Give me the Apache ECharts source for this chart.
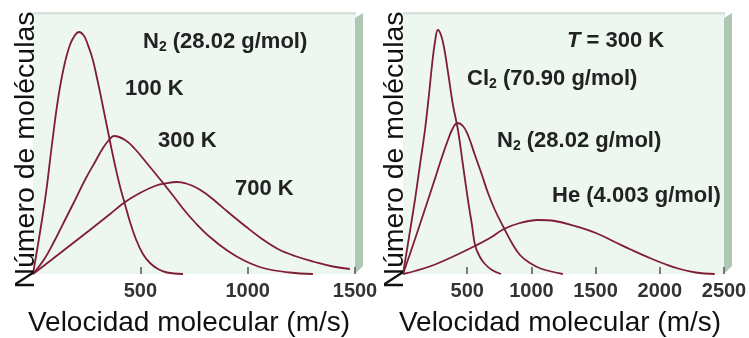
<!DOCTYPE html>
<html>
<head>
<meta charset="utf-8">
<script src="https://cdn.jsdelivr.net/npm/echarts@6/dist/echarts.min.js"></script>
<style>
  html, body { margin: 0; padding: 0; background: #fff; }
  #chart { width: 749px; height: 338px; }
</style>
</head>
<body>
<div id="chart"></div>
<script>
// ticks
var ticksLeft = [500, 1000, 1500];
var ticksRight = [500, 1000, 1500, 2000, 2500];

// [velocidad m/s, numero de moleculas (unidades arbitrarias)]
var n2_100K = [[0,0],[56,74],[88,129],[116,174],[144,207],[172,229],[196,239],[214,242],[238,238],[256,229],[279,214],[298,196],[314,180],[330,163],[347,145],[365,126],[385,106],[406,87],[428,70],[452,52],[480,34.5],[512,20],[545,11],[582,5],[624,1.5],[699,0]];
var n2_300K = [[0,0],[56,16],[102,34],[149,54],[196,74],[242,94],[289,112],[326,126],[354,134],[377,138],[429,134],[475,125],[522,113],[568,101],[606,91],[661,76],[708,63],[755,51.5],[824,37],[908,23],[988,13],[1081,5.5],[1197,1.5],[1304,0]];
var n2_700K = [[0,0],[79,13],[172,28.5],[265,44],[359,60],[429,72],[498,81],[568,88],[615,90.5],[671,92],[713,90.5],[755,87],[801,81],[848,73],[908,62],[988,48],[1067,35],[1141,25],[1220,18],[1314,12],[1397,7.5],[1476,5]];

var cl2_300K = [[0,0],[47,37],[93,74],[132,109],[171,144],[202,179],[226,209],[249,232],[272,244],[296,239],[319,227],[356,197],[389,169],[428,144],[467,109],[506,74],[537,49],[563,28],[599,17],[638,10],[693,4],[763,0]];
var n2_300K_b = [[0,0],[78,29],[156,59],[233,89],[296,114],[350,134],[389,146],[424,151],[467,148],[506,139],[560,119],[615,99],[662,81],[716,64],[786,46],[848,31],[911,19],[988,11],[1082,5],[1245,0]];
var he_300K = [[0,0],[93,3],[218,8],[366,16],[560,28],[677,36],[786,45],[911,51],[1051,54],[1183,53],[1339,48],[1502,41],[1650,32],[1782,24],[1922,16],[2039,10],[2156,5],[2280,1.5],[2428,0]];

var dom = document.getElementById("chart");
var myChart = echarts.init(dom, null, { renderer: "canvas" });

var curveColor = "#7f1d35";
var bgColor = "#eef6f0";
var sideColor = "#afc8b5";
var font = "Liberation Sans";

function curve(data, idx) {
  return {
    type: "line",
    data: data,
    xAxisIndex: idx,
    yAxisIndex: idx,
    smooth: 0.4,
    showSymbol: false,
    silent: true,
    lineStyle: { color: curveColor, width: 1.8 },
  };
}

function xAxis(idx, max, ticks) {
  return {
    type: "value",
    gridIndex: idx,
    min: 0,
    max: max,
    interval: 500,
    axisLine: { show: false },
    splitLine: { show: false },
    axisTick: {
      show: true,
      inside: true,
      length: 7,
      customValues: ticks,
      lineStyle: { color: "#555", width: 1.5 },
    },
    axisLabel: {
      customValues: ticks,
      formatter: function (v) { return String(v); },
      margin: 7,
      color: "#333",
      fontSize: 20,
      fontWeight: "bold",
      fontFamily: font,
    },
  };
}

function yAxis(idx) {
  return {
    type: "value",
    gridIndex: idx,
    min: 0,
    max: 259,
    show: false,
  };
}

var bold = { fontSize: 22, fontWeight: "bold", fontFamily: font, fill: "#222" };
var sub = { fontSize: 14, fontWeight: "bold", fontFamily: font, fill: "#222", padding: [11, 0, 0, 0] };
var ital = { fontSize: 22, fontWeight: "bold", fontStyle: "italic", fontFamily: font, fill: "#222" };

function label(text, x, y) {
  return {
    type: "text",
    z: 100,
    style: {
      text: text,
      x: x,
      y: y,
      verticalAlign: "middle",
      rich: { b: bold, s: sub, i: ital },
    },
  };
}

function side(x0) {
  return {
    type: "polygon",
    z: -1,
    shape: { points: [[x0, 18], [x0 + 8, 13], [x0 + 8, 266], [x0, 274]] },
    style: { fill: sideColor },
  };
}

function topBand(x0, w) {
  return {
    type: "rect",
    z: -1,
    shape: { x: x0, y: 12, width: w, height: 6 },
    style: {
      fill: new echarts.graphic.LinearGradient(0, 0, 0, 1, [
        { offset: 0, color: "#d3ddd5" },
        { offset: 1, color: bgColor },
      ]),
    },
  };
}

function title(text, x, y, rot, size) {
  return {
    type: "text",
    x: x,
    y: y,
    rotation: rot,
    z: 100,
    style: {
      text: text,
      x: 0,
      y: 0,
      align: "center",
      verticalAlign: "middle",
      fontSize: size,
      fontFamily: font,
      fill: "#111",
    },
  };
}

var option = {
  animation: false,
  backgroundColor: "#fff",
  grid: [
    { left: 33, top: 15, width: 322, height: 259, show: true, backgroundColor: bgColor, borderWidth: 0, outerBoundsMode: "none", containLabel: false },
    { left: 403, top: 15, width: 321, height: 259, show: true, backgroundColor: bgColor, borderWidth: 0, outerBoundsMode: "none", containLabel: false },
  ],
  xAxis: [xAxis(0, 1500, ticksLeft), xAxis(1, 2500, ticksRight)],
  yAxis: [yAxis(0), yAxis(1)],
  graphic: [
    topBand(33, 323),
    topBand(403, 322),
    side(355),
    side(724),
    title("Número de moléculas", 26, 150, Math.PI / 2, 28.5),
    title("Número de moléculas", 395, 150, Math.PI / 2, 28.5),
    title("Velocidad molecular (m/s)", 189, 323, 0, 28),
    title("Velocidad molecular (m/s)", 560, 323, 0, 28),
    label("{b|N}{s|2}{b| (28.02 g/mol)}", 143, 42),
    label("{b|100 K}", 125, 89),
    label("{b|300 K}", 158, 141),
    label("{b|700 K}", 235, 189),
    label("{i|T}{b| = 300 K}", 567, 41),
    label("{b|Cl}{s|2}{b| (70.90 g/mol)}", 467, 79),
    label("{b|N}{s|2}{b| (28.02 g/mol)}", 497, 141),
    label("{b|He (4.003 g/mol)}", 552, 196),
  ],
  series: [
    curve(n2_100K, 0),
    curve(n2_300K, 0),
    curve(n2_700K, 0),
    curve(cl2_300K, 1),
    curve(n2_300K_b, 1),
    curve(he_300K, 1),
  ],
};

myChart.setOption(option);
window.addEventListener("resize", myChart.resize);
</script>
</body>
</html>
